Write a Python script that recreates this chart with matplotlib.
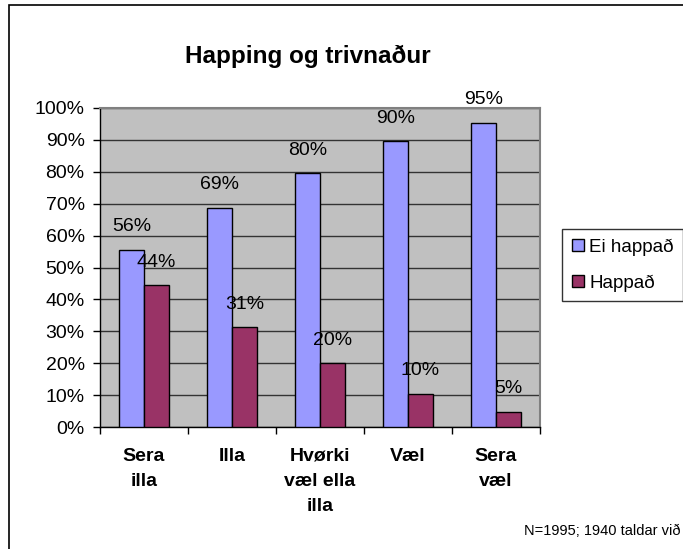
import matplotlib
matplotlib.use("Agg")
import matplotlib.pyplot as plt
import numpy as np
from matplotlib.patches import Rectangle
from matplotlib.lines import Line2D

plt.rcParams['font.family'] = ['Liberation Sans', 'DejaVu Sans']

categories = ["Sera\nilla", "Illa", "Hvørki\nvæl ella\nilla", "Væl", "Sera\nvæl"]
ei_happad = [55.6, 68.8, 79.5, 89.6, 95.3]
happad = [44.4, 31.2, 20.0, 10.4, 4.7]
series_names = ["Ei happað", "Happað"]
title = "Happing og trivnaður"
note = "N=1995; 1940 taldar við"

fig = plt.figure(figsize=(6.83, 5.49), dpi=100)
fig.patches.append(Rectangle((9/683, -0.1), 1.2, 1 - 5/549 + 0.1, transform=fig.transFigure,
                             fill=False, edgecolor='black', linewidth=1.2, zorder=0))
ax = fig.add_axes([100/683, 1 - 427/549, 440/683, 319/549])
ax.set_facecolor('#C0C0C0')

x = np.arange(len(categories))
w = 0.284
b1 = ax.bar(x - w/2, ei_happad, w, color='#9999FF', edgecolor='black', linewidth=1.0, zorder=3)
b2 = ax.bar(x + w/2, happad, w, color='#993366', edgecolor='black', linewidth=1.0, zorder=3)

for bars, vals in ((b1, ei_happad), (b2, happad)):
    for r, v in zip(bars, vals):
        ax.annotate(f"{round(v):d}%", (r.get_x() + r.get_width()/2, v), xytext=(0, 10.5),
                    textcoords='offset points', ha='center', va='bottom', fontsize=14,
                    zorder=5, annotation_clip=False)

ax.set_xlim(-0.5, len(categories) - 0.5)
ax.set_ylim(0, 100)
ax.set_yticks(np.arange(0, 101, 10))
ax.set_yticklabels([f"{t}%" for t in range(0, 101, 10)], fontsize=14)
ax.yaxis.grid(True, color='#333333', linewidth=1.0, zorder=1)
ax.set_axisbelow(True)

ax.set_xticks(np.arange(-0.5, len(categories), 1.0))
ax.set_xticklabels([])
ax.set_xticks(x, minor=True)
ax.set_xticklabels(categories, minor=True, fontsize=14, fontweight='bold', linespacing=1.62, va='top')
ax.tick_params(axis='x', which='minor', length=0, pad=15)
ax.tick_params(axis='x', which='major', length=5, width=1, direction='out')
ax.tick_params(axis='y', length=5, width=1, direction='out', pad=6)

for s in ('top', 'right'):
    ax.spines[s].set_color('#808080')
    ax.spines[s].set_linewidth(1.5)
for s in ('left', 'bottom'):
    ax.spines[s].set_color('black')
    ax.spines[s].set_linewidth(1.0)

fig.text(308/683, 1 - 56/549, title, ha='center', va='center', fontsize=17.5, fontweight='bold')
fig.text(680/683, 1 - 531/549, note, ha='right', va='center', fontsize=10.5)

handles = [Line2D([], [], marker='s', linestyle='none', markersize=9, markerfacecolor='#9999FF',
                  markeredgecolor='black'),
           Line2D([], [], marker='s', linestyle='none', markersize=9, markerfacecolor='#993366',
                  markeredgecolor='black')]
leg = fig.legend(handles, series_names, loc='upper left', bbox_to_anchor=(562/683, 1 - 229/549),
                 frameon=True, fancybox=False, edgecolor='black', fontsize=13.5, handlelength=0.7,
                 handletextpad=0.25, labelspacing=1.0, borderpad=0.5, borderaxespad=0)
leg.get_frame().set_linewidth(1.0)

fig.savefig("out.png", dpi=100)
